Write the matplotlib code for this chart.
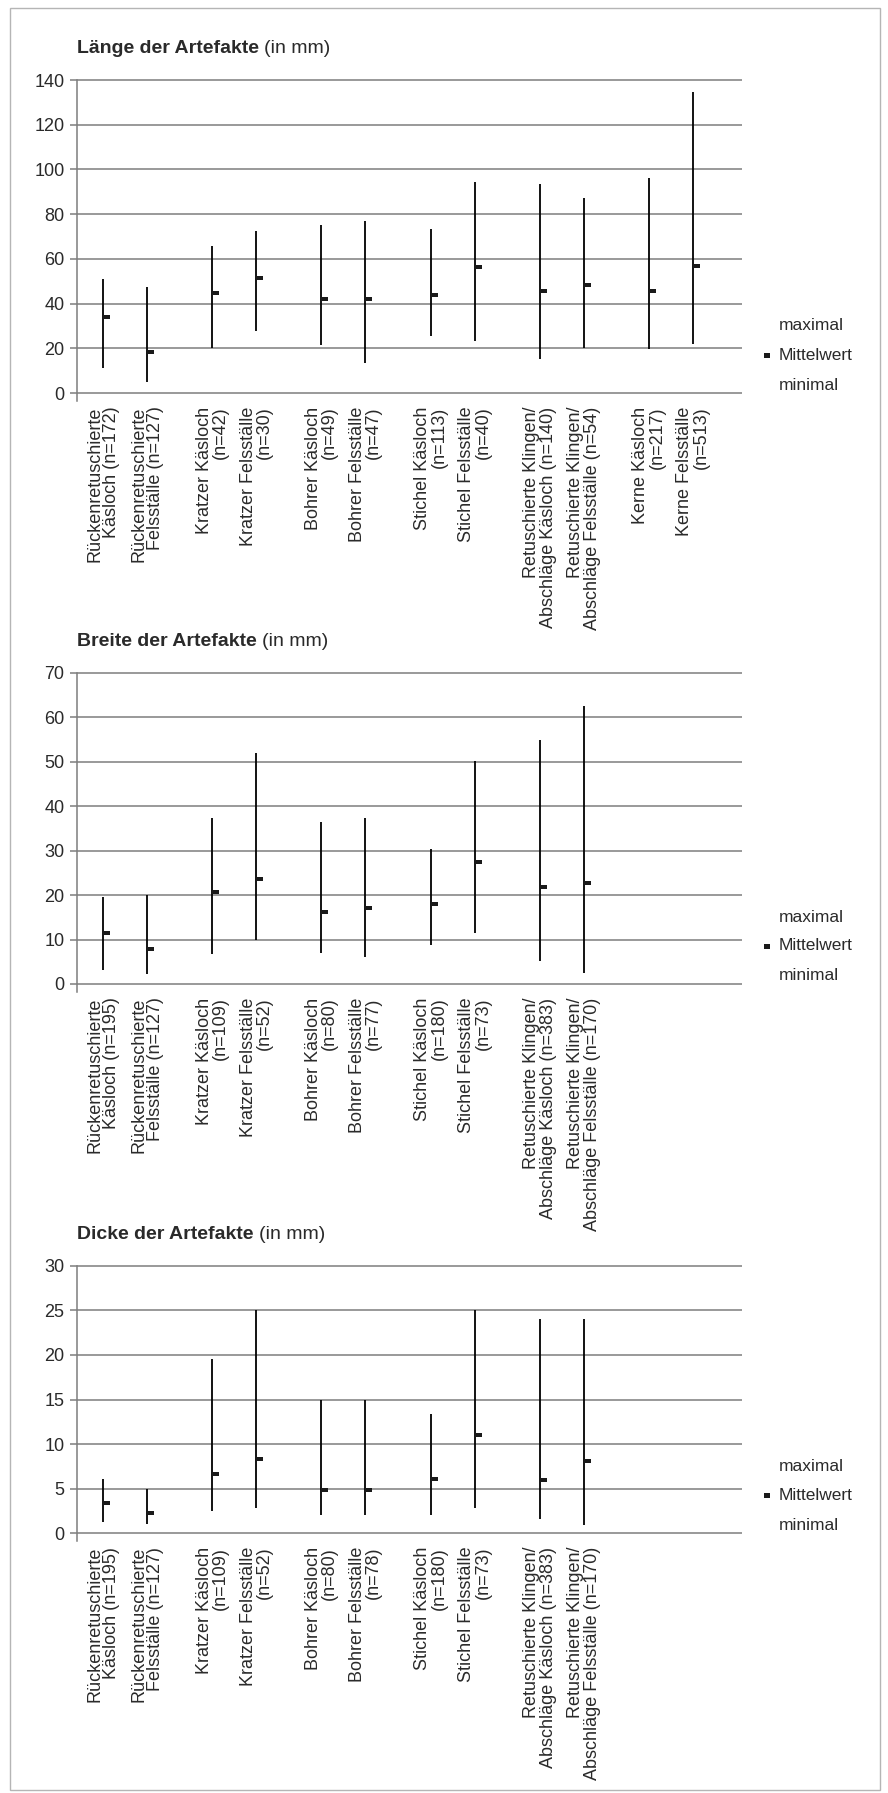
import numpy as np
import matplotlib.pyplot as plt
from matplotlib.patches import Rectangle

plt.rcParams['font.family'] = ['Liberation Sans', 'DejaVu Sans']

W, H = 888, 1793

# Länge der Artefakte
laenge_labels = [
    "Rückenretuschierte\nKäsloch (n=172)", "Rückenretuschierte\nFelsställe (n=127)",
    "Kratzer Käsloch\n(n=42)", "Kratzer Felsställe\n(n=30)",
    "Bohrer Käsloch\n(n=49)", "Bohrer Felsställe\n(n=47)",
    "Stichel Käsloch\n(n=113)", "Stichel Felsställe\n(n=40)",
    "Retuschierte Klingen/\nAbschläge Käsloch (n=140)", "Retuschierte Klingen/\nAbschläge Felsställe (n=54)",
    "Kerne Käsloch\n(n=217)", "Kerne Felsställe\n(n=513)",
]
laenge_max = [51.2, 47.4, 65.7, 72.6, 75.3, 76.8, 73.2, 94.5, 93.5, 87.0, 96.3, 134.6]
laenge_mean = [34.1, 18.2, 44.7, 51.5, 42.2, 42.2, 44.0, 56.3, 45.8, 48.5, 45.8, 56.7]
laenge_min = [11.4, 5.0, 20.3, 27.8, 21.5, 13.5, 25.5, 23.3, 15.3, 20.0, 19.7, 22.1]

# Breite der Artefakte
breite_labels = [
    "Rückenretuschierte\nKäsloch (n=195)", "Rückenretuschierte\nFelsställe (n=127)",
    "Kratzer Käsloch\n(n=109)", "Kratzer Felsställe\n(n=52)",
    "Bohrer Käsloch\n(n=80)", "Bohrer Felsställe\n(n=77)",
    "Stichel Käsloch\n(n=180)", "Stichel Felsställe\n(n=73)",
    "Retuschierte Klingen/\nAbschläge Käsloch (n=383)", "Retuschierte Klingen/\nAbschläge Felsställe (n=170)",
]
breite_max = [19.6, 20.0, 37.3, 52.0, 36.4, 37.3, 30.3, 50.1, 54.9, 62.4]
breite_mean = [11.5, 7.8, 20.6, 23.5, 16.1, 17.1, 18.1, 27.4, 21.7, 22.7]
breite_min = [3.1, 2.2, 6.7, 9.9, 6.9, 6.0, 8.8, 11.5, 5.2, 2.4]

# Dicke der Artefakte
dicke_labels = [
    "Rückenretuschierte\nKäsloch (n=195)", "Rückenretuschierte\nFelsställe (n=127)",
    "Kratzer Käsloch\n(n=109)", "Kratzer Felsställe\n(n=52)",
    "Bohrer Käsloch\n(n=80)", "Bohrer Felsställe\n(n=78)",
    "Stichel Käsloch\n(n=180)", "Stichel Felsställe\n(n=73)",
    "Retuschierte Klingen/\nAbschläge Käsloch (n=383)", "Retuschierte Klingen/\nAbschläge Felsställe (n=170)",
]
dicke_max = [6.1, 5.0, 19.5, 25.0, 14.9, 14.9, 13.4, 25.0, 24.0, 24.0]
dicke_mean = [3.4, 2.3, 6.7, 8.3, 4.9, 4.9, 6.1, 11.0, 6.0, 8.1]
dicke_min = [1.3, 1.05, 2.5, 2.8, 2.0, 2.0, 2.0, 2.8, 1.6, 0.9]

charts = [
    ("Länge der Artefakte", laenge_labels, laenge_max, laenge_mean, laenge_min, 140, 20, 80.0, 393.0),
    ("Breite der Artefakte", breite_labels, breite_max, breite_mean, breite_min, 70, 10, 672.7, 984.0),
    ("Dicke der Artefakte", dicke_labels, dicke_max, dicke_mean, dicke_min, 30, 5, 1265.7, 1533.3),
]

grid_col = '#7d7d7d'
text_col = '#2a2a2a'
mean_marker = [(0, -0.35), (1, -0.35), (1, 0.35), (0, 0.35), (0, -0.35)]

fig = plt.figure(figsize=(W / 100, H / 100), dpi=100)
fig.patches.append(Rectangle((10 / W, 1 - 1790 / H), 870 / W, 1782 / H,
                             transform=fig.transFigure, fill=False,
                             ec='#b5b5b5', lw=1.0))

ax_left, ax_right = 77, 742
renderer = fig.canvas.get_renderer()

for title, labels, vmax, vmean, vmin, top, step, y_top, y_zero in charts:
    n = len(labels)
    pos = [(i // 2) * 2.48 + (i % 2) for i in range(n)]
    px_per_unit = (y_zero - y_top) / top
    below = 8 / px_per_unit
    y_bot = y_zero + 8

    ax = fig.add_axes([ax_left / W, 1 - y_bot / H,
                       (ax_right - ax_left) / W, (y_bot - y_top) / H])
    ax.set_xlim(-0.598, 14.52)
    ax.set_ylim(-below, top)

    ticks = np.arange(0, top + 1, step)
    ax.hlines(ticks, -0.598, 14.52, color=grid_col, lw=1.1, clip_on=False, zorder=1)
    ax.vlines(pos, vmin, vmax, color='black', lw=1.3, zorder=3)
    ax.plot(pos, vmean, ls='none', marker=mean_marker, ms=10,
            color='#1a1a1a', mew=0, zorder=4)

    for s in ['top', 'right', 'bottom']:
        ax.spines[s].set_visible(False)
    ax.spines['left'].set_color(grid_col)
    ax.spines['left'].set_linewidth(1.1)

    ax.set_yticks(ticks)
    ax.set_yticklabels([str(t) for t in ticks])
    ax.tick_params(axis='y', length=5, width=1.1, color=grid_col, pad=4,
                   labelsize=13, labelcolor=text_col)
    ax.set_xticks(pos)
    ax.set_xticklabels(labels, rotation=90, fontsize=13, color=text_col,
                       linespacing=0.98)
    for lab in ax.get_xticklabels():
        lab.set_multialignment('right')
    ax.tick_params(axis='x', length=0, pad=4)

    # title: bold part + regular part
    ty = 1 - (y_top - 27) / H
    t1 = fig.text(ax_left / W, ty, title, fontsize=14, fontweight='bold',
                  color=text_col, va='baseline', ha='left')
    bb = t1.get_window_extent(renderer=renderer)
    fig.text((bb.x1 + 5) / W, ty, "(in mm)", fontsize=14, color=text_col,
             va='baseline', ha='left')

    # legend on the right
    for txt, dy in [("maximal", -67), ("Mittelwert", -38), ("minimal", -8)]:
        fig.text(779 / W, 1 - (y_zero + dy) / H, txt, fontsize=12.5,
                 color=text_col, va='center', ha='left')
    fig.patches.append(Rectangle((764 / W, 1 - (y_zero - 38 + 2.5) / H), 6 / W, 5 / H,
                                 transform=fig.transFigure, color='#1a1a1a', lw=0))

fig.savefig('out.png', dpi=100)
